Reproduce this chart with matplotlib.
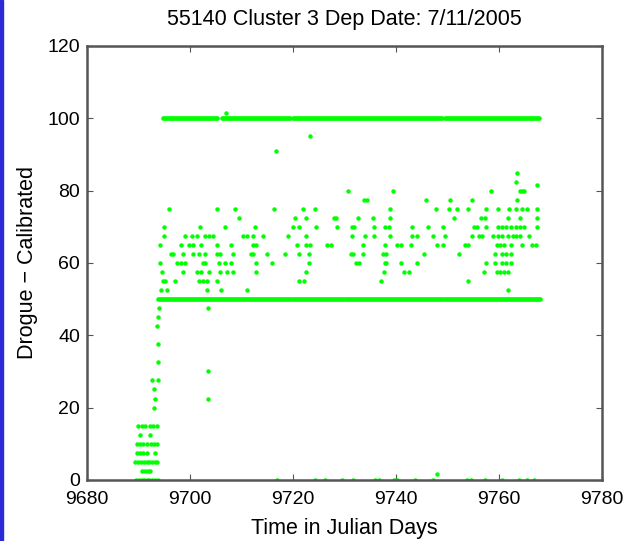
import matplotlib
matplotlib.use('Agg')
import matplotlib.pyplot as plt

# sample days for each quantised drogue value
days_85 = [9763.5]
days_82 = [9763.3]
days_81 = [9767.4]
days_80 = [9730.6, 9739.3, 9758.5, 9764.1, 9764.5, 9764.9]
days_77 = [9733.7, 9734.3, 9745.7, 9750.5, 9754.8, 9763.5]
days_75 = [9695.9, 9705.3, 9708.7, 9716.3, 9721.9, 9724.3, 9738.9, 9747.8, 9750.2,
           9751.9, 9753.9, 9757.5, 9759.8, 9761.9, 9763.2, 9764.5, 9765.3, 9767.4]
days_72 = [9709.5, 9720.3, 9722.6, 9727.9, 9728.4, 9732.6, 9735.6, 9738.9, 9751.2,
           9756.4, 9757.3, 9761.8, 9764.1, 9767.4]
days_70 = [9695.0, 9701.9, 9706.7, 9712.7, 9719.9, 9721.1, 9724.4, 9728.6, 9731.4,
           9731.9, 9735.7, 9737.9, 9738.7, 9743.0, 9746.1, 9749.0, 9755.2, 9755.6,
           9757.4, 9759.8, 9760.6, 9761.4, 9762.2, 9763.3, 9764.1, 9764.9, 9767.4]
days_67 = [9695.0, 9699.0, 9700.4, 9701.3, 9702.9, 9703.6, 9704.4, 9710.2, 9711.0,
           9712.3, 9714.1, 9719.1, 9722.6, 9731.4, 9733.9, 9735.8, 9738.9, 9743.0,
           9744.0, 9747.1, 9749.4, 9754.8, 9756.0, 9756.7, 9758.7, 9759.8, 9760.6,
           9761.8, 9762.6, 9763.3, 9764.1, 9765.7]
days_65 = [9694.2, 9698.2, 9699.8, 9700.5, 9702.1, 9705.2, 9707.9, 9712.2, 9712.9,
           9720.7, 9722.6, 9723.2, 9726.5, 9727.3, 9733.5, 9737.8, 9740.1, 9740.9,
           9742.8, 9748.0, 9749.0, 9753.3, 9754.0, 9759.5, 9760.2, 9761.0, 9762.2,
           9764.5, 9766.4, 9767.2]
days_62 = [9696.3, 9696.7, 9698.6, 9700.5, 9701.7, 9702.9, 9705.2, 9705.8, 9708.3,
           9711.8, 9712.2, 9714.9, 9718.5, 9721.1, 9723.0, 9731.2, 9731.6, 9733.5,
           9737.4, 9738.1, 9745.5, 9752.1, 9759.1, 9760.6, 9761.4, 9762.2]
days_60 = [9694.2, 9697.4, 9698.2, 9699.0, 9702.5, 9702.9, 9705.6, 9706.7, 9707.9,
           9712.9, 9716.0, 9723.0, 9732.3, 9732.7, 9737.8, 9738.1, 9740.9, 9744.0,
           9757.5, 9759.1, 9760.6, 9761.4, 9762.2]
days_57 = [9694.5, 9698.6, 9701.3, 9702.1, 9703.6, 9705.8, 9707.1, 9708.3, 9712.9,
           9722.6, 9737.6, 9741.6, 9742.4, 9757.1, 9759.5, 9760.2, 9761.0, 9761.8]
days_55 = [9694.7, 9695.1, 9697.1, 9701.7, 9702.5, 9703.3, 9705.2, 9721.1, 9722.2,
           9737.0, 9754.0]
days_52 = [9694.3, 9695.5, 9703.3, 9706.0, 9711.0, 9761.8]
days_47 = [9693.9, 9703.5]

# odd single readings
odd_days = [9716.7, 9723.3, 9706.9, 9703.5, 9703.5, 9693.8, 9693.6,
            9693.8, 9693.8, 9692.6, 9693.7, 9693.0, 9693.2, 9693.0, 9747.9]
odd_vals = [91.0, 95.0, 101.5, 30.0, 22.5, 45.0, 42.5,
            37.5, 32.5, 27.5, 27.5, 25.0, 22.5, 20.0, 1.5]

# early ramp right after deployment
ramp_days_15 = [9690.0, 9690.6, 9691.3, 9692.2, 9692.9, 9693.5]
ramp_days_12 = [9690.2, 9692.2]
ramp_days_10 = [9689.8, 9690.3, 9690.9, 9691.6, 9692.4, 9693.0, 9693.6]
ramp_days_7 = [9689.8, 9690.3, 9690.9, 9691.6, 9693.2]
ramp_days_5 = [9689.4, 9689.9, 9690.5, 9691.0, 9691.6, 9692.1, 9692.7, 9693.3, 9693.6]
ramp_days_2 = [9690.6, 9691.2, 9691.8, 9692.2]
zero_days = [9689.6, 9690.1, 9690.6, 9691.1, 9691.6, 9692.1, 9692.7, 9693.2, 9693.8,
             9716.8, 9724.3, 9726.2, 9729.5, 9731.7, 9735.9, 9736.6, 9739.5, 9740.1,
             9743.7, 9747.2, 9753.7, 9754.6, 9757.3, 9760.5, 9763.8, 9765.4, 9766.7]

# almost continuous runs of readings at 100 and at 50
runs_100 = [(9694.8, 9705.2), (9706.3, 9719.4), (9720.0, 9748.9), (9749.5, 9767.8)]
runs_50 = [(9693.7, 9709.6), (9709.9, 9719.6), (9719.9, 9729.7), (9730.0, 9749.1),
           (9749.4, 9768.0)]

levels = [(days_85, 85), (days_82, 82.5), (days_81, 81.5), (days_80, 80), (days_77, 77.5),
          (days_75, 75), (days_72, 72.5), (days_70, 70), (days_67, 67.5), (days_65, 65),
          (days_62, 62.5), (days_60, 60), (days_57, 57.5), (days_55, 55), (days_52, 52.5),
          (days_47, 47.5), (ramp_days_15, 15), (ramp_days_12, 12.5), (ramp_days_10, 10),
          (ramp_days_7, 7.5), (ramp_days_5, 5), (ramp_days_2, 2.5), (zero_days, 0)]

plt.rcParams['font.family'] = 'Liberation Sans'
green = '#00ff00'

fig = plt.figure(figsize=(6.3, 5.41), dpi=100)
ax = fig.add_axes([0.138, 0.113, 0.818, 0.802])

for t0, t1 in runs_100:
    ax.plot([t0, t1], [100, 100], color=green, lw=3.4, solid_capstyle='round')
for t0, t1 in runs_50:
    ax.plot([t0, t1], [50, 50], color=green, lw=3.4, solid_capstyle='round')

for d, v in levels:
    ax.plot(d, [v] * len(d), 'o', color=green, ms=3.2, mec='none')
ax.plot(odd_days, odd_vals, 'o', color=green, ms=3.2, mec='none')

ax.set_xlim(9680, 9780)
ax.set_ylim(0, 120)
ax.set_xticks(range(9680, 9781, 20))
ax.set_yticks(range(0, 121, 20))
ax.tick_params(direction='in', top=True, right=True, length=4, labelsize=14,
               color='#555555')
ax.tick_params(axis='x', pad=8)
ax.tick_params(axis='y', pad=5)
for s in ax.spines.values():
    s.set_color('#555555')
    s.set_linewidth(1.8)

ax.set_title('55140 Cluster 3 Dep Date: 7/11/2005', fontsize=15.5, pad=15)
ax.set_xlabel('Time in Julian Days', fontsize=15.5, labelpad=7)
ax.set_ylabel('Drogue \u2212 Calibrated', fontsize=15.5, labelpad=7)

# blue strip on the left edge of the original slide
fig.patches.append(plt.Rectangle((0, 0), 3 / 630, 1, transform=fig.transFigure,
                                 color='#2b2bd6', zorder=10))

fig.savefig('out.png', dpi=100)
